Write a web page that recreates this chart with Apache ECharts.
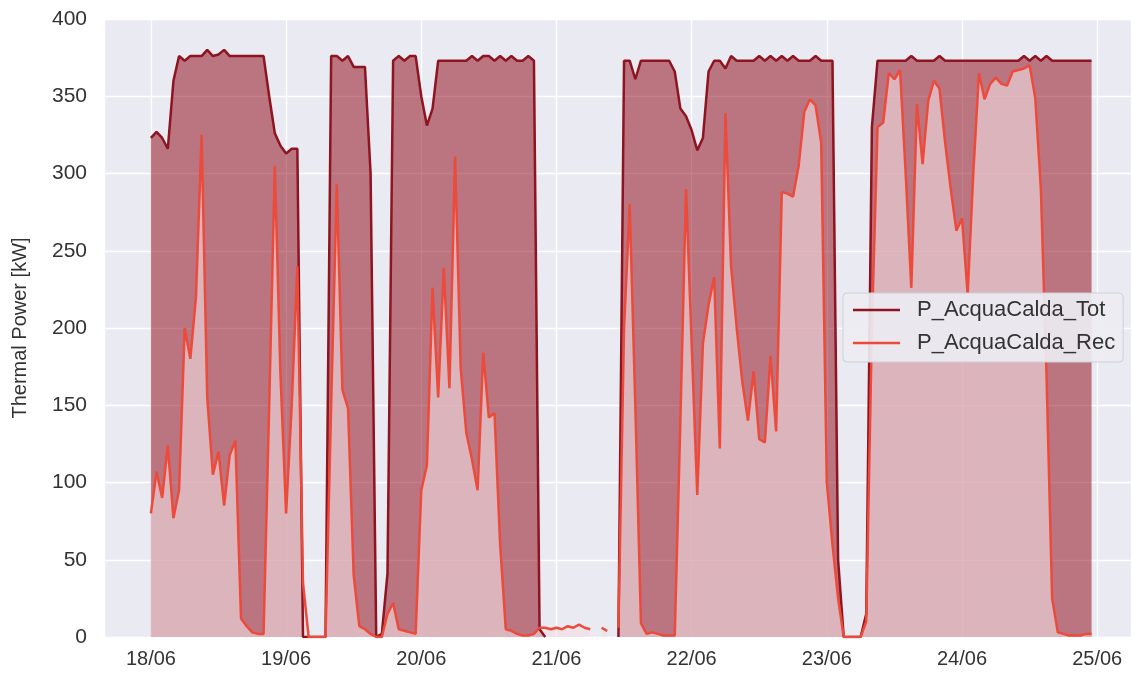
<!DOCTYPE html>
<html><head><meta charset="utf-8">
<script src="https://cdn.jsdelivr.net/npm/echarts@6/dist/echarts.min.js"></script>
<style>html,body{margin:0;padding:0;background:#fff}#c{width:1134px;height:678px}</style>
</head><body><div id="c"></div><script>
// hourly samples starting 18/06 00:00
const startDay = [2023, 5, 18];
const seriesNames = ['P_AcquaCalda_Tot', 'P_AcquaCalda_Rec'];
const xTickLabels = ['18/06','19/06','20/06','21/06','22/06','23/06','24/06','25/06'];
const yTicks = [0,50,100,150,200,250,300,350,400];

const totValues = [
 323,327,323,316,360,376,373,376,376,376,
 380,376,377,380,376,376,376,376,376,376,
 376,350,326,318,313,316,316,0,0,0,
 0,0,376,376,373,376,369,369,369,300,
 0,2,41,373,376,373,376,376,350,331,
 342,373,373,373,373,373,373,376,373,376,
 376,373,376,373,376,373,373,376,373,5,
 0,null,null,null,null,null,null,null,null,null,
 null,null,null,0,373,373,361,373,373,373,
 373,373,373,366,342,337,328,315,323,366,
 373,373,368,376,373,373,373,373,376,373,
 376,373,376,373,376,373,373,373,376,373,
 373,373,50,0,0,0,0,15,330,373,
 373,373,373,373,373,376,373,373,373,373,
 376,373,373,373,373,373,373,373,373,373,
 373,373,373,373,373,376,373,376,373,376,
 373,373,373,373,373,373,373,373
];
const recValues = [
 80,107,90,124,77,95,200,180,220,325,
 155,105,120,85,118,127,12,7,3,2,
 2,150,305,170,80,150,240,35,0,0,
 0,0,150,293,160,148,40,7,5,2,
 0,0,15,22,5,4,3,2,95,111,
 226,155,239,161,311,174,132,115,95,184,
 142,145,60,5,4,2,1,1,2,6,
 6,5,6,5,7,6,8,6,5,null,
 6,4,null,6,200,280,150,9,2,3,
 2,1,1,1,140,290,190,92,190,215,
 233,122,339,240,200,165,140,172,128,126,
 182,133,288,287,285,305,340,348,344,320,
 100,60,25,0,0,0,0,10,200,330,
 333,365,361,367,300,226,345,306,347,360,
 355,320,290,263,271,222,300,365,348,358,
 362,358,357,366,367,368,370,349,290,170,
 25,3,2,1,1,1,2,2
];

const DAY = 86400000, HOUR = 3600000;
const t0 = new Date(startDay[0], startDay[1], startDay[2]).getTime();
const toPairs = arr => arr.map((v, i) => [t0 + i * HOUR, v]);

const font = '"Liberation Sans", Arial, sans-serif';
const chart = echarts.init(document.getElementById('c'), null, {renderer: 'canvas'});
chart.setOption({
  animation: false,
  backgroundColor: '#ffffff',
  grid: {left: 104, right: 0, top: 19, bottom: 41, show: true, backgroundColor: '#EAEAF2', borderWidth: 0, containLabel: false},
  xAxis: {
    type: 'time',
    min: t0 - 0.347 * DAY,
    max: t0 + 7.25 * DAY,
    minInterval: DAY, maxInterval: DAY,
    axisLine: {show: false}, axisTick: {show: false},
    splitLine: {show: true, lineStyle: {color: '#ffffff', width: 1.3}},
    axisLabel: {
      fontFamily: font, fontSize: 20, color: '#333', margin: 12,
      showMinLabel: false, showMaxLabel: true, hideOverlap: false,
      formatter: v => { const i = Math.round((v - t0) / DAY); return (Math.abs(v - t0 - i * DAY) < HOUR && xTickLabels[i]) ? xTickLabels[i] : ''; }
    }
  },
  yAxis: {
    type: 'value', min: yTicks[0], max: yTicks[yTicks.length - 1], interval: yTicks[1] - yTicks[0],
    name: 'Thermal Power [kW]', nameLocation: 'middle', nameGap: 74,
    nameTextStyle: {fontFamily: font, fontSize: 20, color: '#333'},
    axisLine: {show: false}, axisTick: {show: false},
    splitLine: {show: true, lineStyle: {color: '#ffffff', width: 1.3}},
    axisLabel: {fontFamily: font, fontSize: 21, color: '#333', margin: 17}
  },
  legend: {
    orient: 'vertical', left: 843, top: 293,
    padding: [6, 8, 8, 10], itemGap: 11,
    backgroundColor: 'rgba(236,236,242,0.92)', borderColor: '#cfcfd6', borderWidth: 1, borderRadius: 4,
    itemWidth: 47, itemHeight: 2.5, icon: 'rect',
    textStyle: {fontFamily: font, fontSize: 22, lineHeight: 22, color: '#333', padding: [0, 0, 0, 12]},
    data: seriesNames
  },
  series: [
    {
      name: seriesNames[0], type: 'line', data: toPairs(totValues), showSymbol: false, connectNulls: false,
      itemStyle: {color: '#8E1420'},
      lineStyle: {color: '#8E1420', width: 2.5},
      areaStyle: {color: 'rgba(140,0,15,0.5)', opacity: 1, origin: 'start'}
    },
    {
      name: seriesNames[1], type: 'line', data: toPairs(recValues), showSymbol: false, connectNulls: false,
      itemStyle: {color: '#EC4A3A'},
      lineStyle: {color: '#EC4A3A', width: 2.5},
      areaStyle: {color: 'rgba(242,222,227,0.6)', opacity: 1, origin: 'start'}
    }
  ]
});
</script></body></html>
